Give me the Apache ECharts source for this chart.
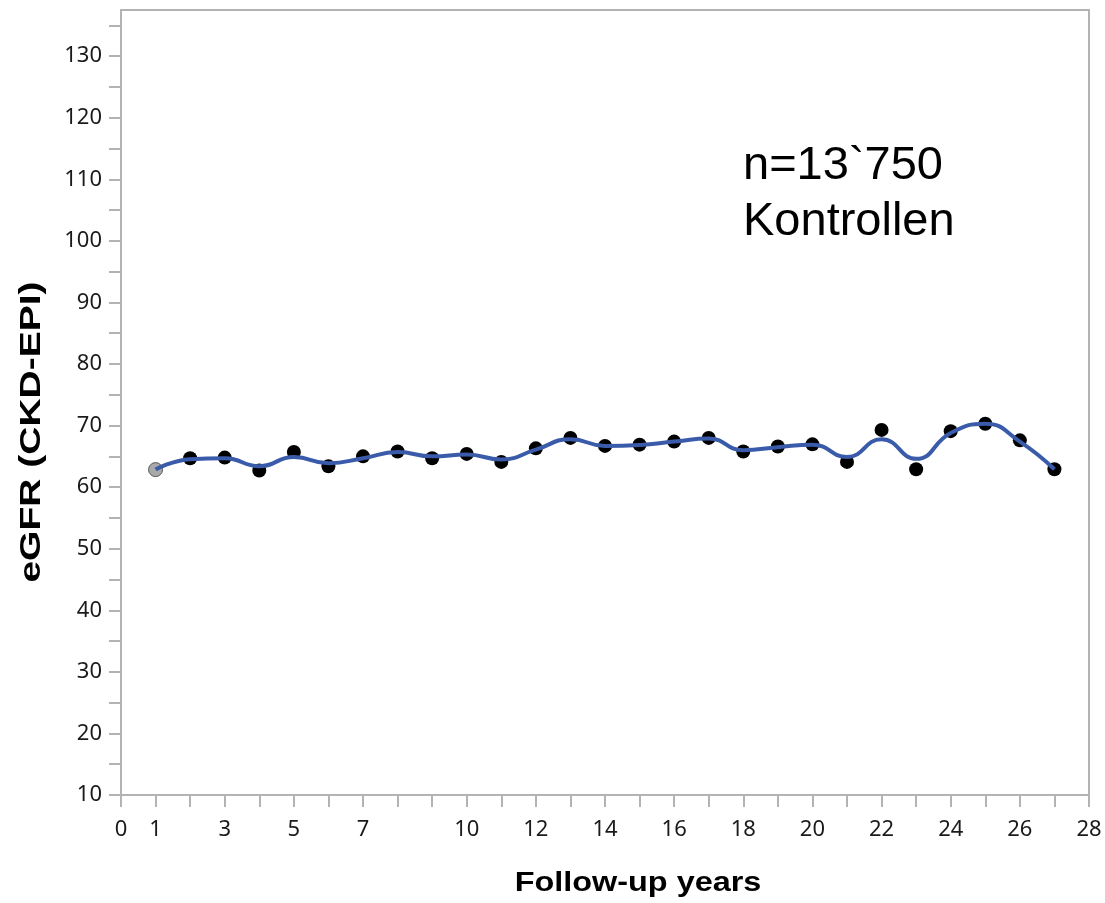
<!DOCTYPE html>
<html>
<head>
<meta charset="utf-8">
<script src="https://cdn.jsdelivr.net/npm/echarts@6/dist/echarts.min.js"></script>
<style>html,body{margin:0;padding:0;background:#fff}#c{width:1105px;height:903px}</style>
</head>
<body>
<div id="c"></div>
<script>
var years = [1,2,3,4,5,6,7,8,9,10,11,12,13,14,15,16,17,18,19,20,21,22,23,24,25,26,27];
var egfrMeans = [62.85,64.7,64.8,62.7,65.7,63.4,65.0,65.8,64.7,65.4,64.1,66.3,68.0,66.7,66.9,67.4,68.0,65.8,66.6,66.95,64.1,69.3,62.9,69.1,70.3,67.6,62.9];
var smoothFit = [62.85,64.55,64.7,63.4,64.9,63.9,64.7,65.7,65.0,65.3,64.5,66.1,67.8,66.7,66.85,67.4,67.9,66.0,66.5,66.9,64.9,67.8,64.6,68.8,70.3,67.4,62.9];
var xTickLabels = [0,1,3,5,7,10,12,14,16,18,20,22,24,26,28];
var xTicks = [0,1,2,3,4,5,6,7,8,9,10,11,12,13,14,15,16,17,18,19,20,21,22,23,24,25,26,27,28];
var yTickLabels = [10,20,30,40,50,60,70,80,90,100,110,120,130];
var yTicks = [10,15,20,25,30,35,40,45,50,55,60,65,70,75,80,85,90,95,100,105,110,115,120,125,130,135];
var annotationLines = ['n=13`750','Kontrollen'];
var xTitle = 'Follow-up years';
var yTitle = 'eGFR (CKD-EPI)';

var axisGrey = '#b3b3b3';
var pointData = years.map(function(y,i){
  var p = {value:[y, egfrMeans[i]]};
  if (i === 0) p.itemStyle = {color:'#a9a9a9', borderColor:'#555', borderWidth:1};
  return p;
});
var chart = echarts.init(document.getElementById('c'), null, {renderer:'canvas'});
chart.setOption({
  animation:false,
  backgroundColor:'#fff',
  grid:{left:121, right:16, top:10, bottom:108, show:true, borderColor:axisGrey, borderWidth:2},
  xAxis:{
    type:'value', min:0, max:28, interval:1,
    axisLine:{show:true, lineStyle:{color:axisGrey, width:2}},
    axisTick:{show:true, length:12, customValues:xTicks, lineStyle:{color:axisGrey, width:2}},
    axisLabel:{customValues:xTickLabels, margin:24, color:'#1a1a1a', fontFamily:'Noto Sans', fontSize:22},
    splitLine:{show:false}
  },
  yAxis:{
    type:'value', min:10, max:137.5, interval:5,
    axisLine:{show:true, lineStyle:{color:axisGrey, width:2}},
    axisTick:{show:true, length:12, customValues:yTicks, lineStyle:{color:axisGrey, width:2}},
    axisLabel:{customValues:yTickLabels, margin:19, color:'#1a1a1a', fontFamily:'Noto Sans', fontSize:22},
    splitLine:{show:false}
  },
  series:[
    {type:'scatter', data:pointData, symbolSize:14, itemStyle:{color:'#000', opacity:1}, z:2},
    {type:'line', data:years.map(function(y,i){return [y, smoothFit[i]];}), smooth:0.5, showSymbol:false,
     lineStyle:{color:'#3a5ba9', width:4}, z:3}
  ],
  graphic:[
    {type:'text', x:743, y:166, style:{text:annotationLines[0], font:'47px "Liberation Sans"', fill:'#000', verticalAlign:'middle'}},
    {type:'text', x:743, y:222, style:{text:annotationLines[1], font:'47px "Liberation Sans"', fill:'#000', verticalAlign:'middle'}},
    {type:'text', x:638, y:884, scaleX:1.2, style:{text:xTitle, font:'bold 27px "Liberation Sans"', fill:'#000', align:'center', verticalAlign:'middle'}},
    {type:'text', x:32, y:432, rotation:Math.PI/2, scaleX:1.3, style:{text:yTitle, font:'bold 30px "Liberation Sans"', fill:'#000', align:'center', verticalAlign:'middle'}}
  ]
});
</script>
</body>
</html>
